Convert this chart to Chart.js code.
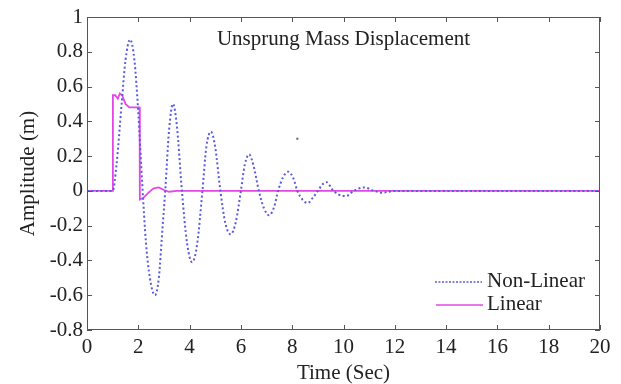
<!DOCTYPE html>
<html>
<head>
<meta charset="utf-8">
<script src="https://cdn.jsdelivr.net/npm/chart.js@4.4.0/dist/chart.umd.min.js"></script>
<style>
  body { margin: 0; background: #fff; }
  canvas { display: block; }
</style>
</head>
<body>
<canvas id="chart" width="621" height="384"></canvas>
<script>
// values
const nonLinearTime = [0, 1.0, 1.15, 1.35, 1.5, 1.68, 1.85, 2.0, 2.15, 2.3, 2.45, 2.65, 2.8, 2.95, 3.05, 3.2, 3.35, 3.5, 3.7, 3.9, 4.1, 4.3, 4.5, 4.65, 4.83, 5.0, 5.2, 5.4, 5.6, 5.8, 6.0, 6.15, 6.32, 6.5, 6.7, 6.9, 7.1, 7.3, 7.45, 7.65, 7.85, 8.05, 8.2, 8.4, 8.6, 8.8, 9.0, 9.2, 9.35, 9.55, 9.8, 10.1, 10.4, 10.8, 11.2, 11.5, 12, 20];
const nonLinear = [0, 0, 0.15, 0.5, 0.75, 0.87, 0.75, 0.45, 0.05, -0.3, -0.5, -0.6, -0.5, -0.2, 0, 0.35, 0.5, 0.38, 0, -0.3, -0.41, -0.3, 0, 0.25, 0.34, 0.25, 0, -0.19, -0.25, -0.18, 0, 0.15, 0.21, 0.14, 0, -0.1, -0.14, -0.09, 0, 0.08, 0.11, 0.07, 0, -0.05, -0.07, -0.04, 0, 0.04, 0.05, 0.01, -0.02, -0.03, 0, 0.02, 0, -0.01, 0, 0];
const strayTime = [8.2];
const stray = [0.3];
const linearTime = [0, 1.0, 1.01, 1.1, 1.2, 1.28, 1.37, 1.5, 1.65, 1.85, 2.05, 2.06, 2.2, 2.4, 2.6, 2.8, 3.0, 3.2, 3.5, 4, 20];
const linear = [0, 0, 0.55, 0.55, 0.53, 0.56, 0.55, 0.5, 0.48, 0.48, 0.48, -0.05, -0.04, -0.01, 0.015, 0.02, 0.005, -0.005, 0, 0, 0];
const xTicks = [0, 2, 4, 6, 8, 10, 12, 14, 16, 18, 20];
const yTicks = [-0.8, -0.6, -0.4, -0.2, 0, 0.2, 0.4, 0.6, 0.8, 1];

const pts = (xs, ys) => xs.map((x, i) => ({ x: x, y: ys[i] }));
const serif = "'Liberation Serif', 'Times New Roman', serif";
const blue = '#5a5ae0';
const pink = '#e448e4';

const boxPlugin = {
  id: 'box',
  afterDraw(chart) {
    const { ctx, chartArea: a, scales: { x, y } } = chart;
    ctx.save();
    ctx.strokeStyle = '#555';
    ctx.lineWidth = 1;
    ctx.strokeRect(a.left + 0.5, a.top + 0.5, a.right - a.left - 1, a.bottom - a.top - 1);
    ctx.beginPath();
    xTicks.forEach(v => {
      const px = Math.round(x.getPixelForValue(v)) + 0.5;
      ctx.moveTo(px, a.bottom); ctx.lineTo(px, a.bottom - 5);
      ctx.moveTo(px, a.top); ctx.lineTo(px, a.top + 5);
    });
    yTicks.forEach(v => {
      const py = Math.round(y.getPixelForValue(v)) + 0.5;
      ctx.moveTo(a.left, py); ctx.lineTo(a.left + 5, py);
      ctx.moveTo(a.right, py); ctx.lineTo(a.right - 5, py);
    });
    ctx.stroke();

    // title inside the plot
    ctx.fillStyle = '#222';
    ctx.font = '21px ' + serif;
    ctx.textAlign = 'center';
    ctx.textBaseline = 'middle';
    ctx.fillText('Unsprung Mass Displacement', (a.left + a.right) / 2, 39);

    // legend bottom right
    ctx.textAlign = 'left';
    ctx.lineWidth = 1.5;
    ctx.strokeStyle = blue;
    ctx.setLineDash([2, 1.5]);
    ctx.beginPath(); ctx.moveTo(435, 282); ctx.lineTo(482, 282); ctx.stroke();
    ctx.setLineDash([]);
    ctx.strokeStyle = pink;
    ctx.beginPath(); ctx.moveTo(436, 305); ctx.lineTo(483, 305); ctx.stroke();
    ctx.fillText('Non-Linear', 487, 281);
    ctx.fillText('Linear', 487, 304);
    ctx.restore();
  }
};

new Chart(document.getElementById('chart'), {
  type: 'line',
  data: {
    datasets: [
      {
        label: 'Non-Linear',
        data: pts(nonLinearTime, nonLinear),
        borderColor: blue,
        borderWidth: 2,
        borderDash: [2, 2.5],
        pointRadius: 0,
        cubicInterpolationMode: 'monotone'
      },
      {
        label: 'Non-Linear',
        data: pts(strayTime, stray),
        borderColor: blue,
        backgroundColor: '#777',
        showLine: false,
        pointRadius: 1.2,
        pointBorderWidth: 0
      },
      {
        label: 'Linear',
        data: pts(linearTime, linear),
        borderColor: pink,
        borderWidth: 1.8,
        pointRadius: 0,
        tension: 0
      }
    ]
  },
  options: {
    responsive: false,
    animation: false,
    devicePixelRatio: 1,
    layout: { padding: { top: 17, right: 21, left: 0, bottom: 0 } },
    plugins: { legend: { display: false }, tooltip: { enabled: false } },
    scales: {
      x: {
        type: 'linear',
        min: 0, max: 20,
        afterFit: s => { s.height = 54; },
        afterBuildTicks: s => { s.ticks = xTicks.map(v => ({ value: v })); },
        grid: { display: false, drawTicks: false },
        border: { display: false },
        ticks: { color: '#222', font: { family: serif, size: 21 }, padding: 5, maxRotation: 0 },
        title: { display: true, text: 'Time (Sec)', color: '#222', font: { family: serif, size: 21 }, padding: { top: 0, bottom: -2 } }
      },
      y: {
        min: -0.8, max: 1,
        afterFit: s => { s.width = 87; },
        afterBuildTicks: s => { s.ticks = yTicks.map(v => ({ value: v })); },
        grid: { display: false, drawTicks: false },
        border: { display: false },
        ticks: {
          color: '#222', font: { family: serif, size: 21 }, padding: 4,
          callback: v => String(Number(v.toFixed(1)))
        },
        title: { display: true, text: 'Amplitude (m)', color: '#222', font: { family: serif, size: 21 }, padding: { top: 16, bottom: 0 } }
      }
    }
  },
  plugins: [boxPlugin]
});
</script>
</body>
</html>
